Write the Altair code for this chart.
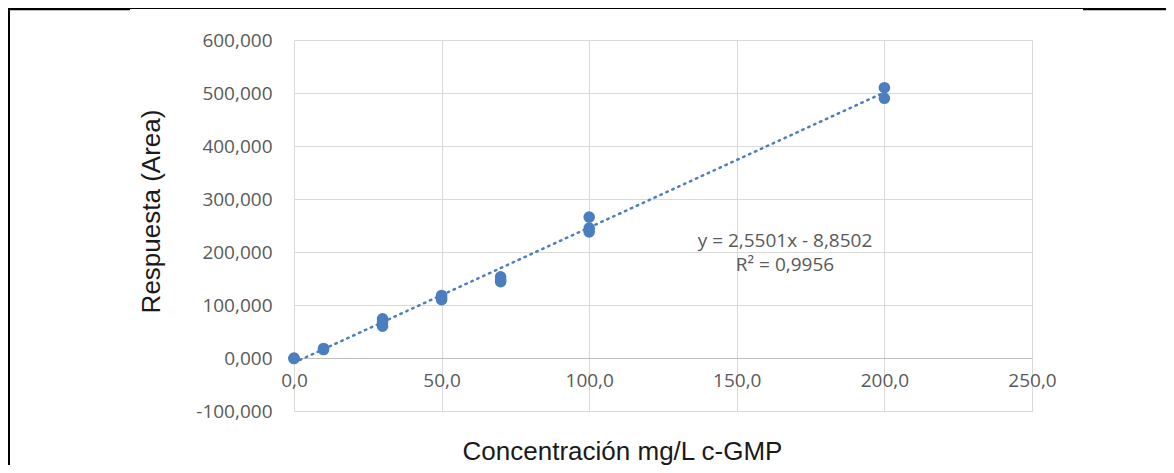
import altair as alt
import pandas as pd

# Data
conc_x = [0, 0, 10, 10, 30, 30, 30, 50, 50, 50, 70, 70, 70, 100, 100, 100, 200, 200]
resp_y = [0, -1, 16, 18, 74, 68, 60, 118, 114, 110, 153, 147, 144, 266, 245, 238, 510, 490]

# Trendline shown in the chart: y = 2,5501x - 8,8502 (over the data range)
slope = 2.5501
intercept = -8.8502
trend_x = [0, 200]
trend_y = [slope * v + intercept for v in trend_x]

eq_text = "y = 2,5501x - 8,8502"
r2_text = "R\u00b2 = 0,9956"

x_ticks = [0, 50, 100, 150, 200, 250]
y_ticks = [-100, 0, 100, 200, 300, 400, 500, 600]

pts = pd.DataFrame({"x": conc_x, "y": resp_y})
trend = pd.DataFrame({"x": trend_x, "y": trend_y})

BLUE = "#4A7EBF"
TICK_FONT = "Open Sans"
TITLE_FONT = "Liberation Sans"

xscale = alt.Scale(domain=[0, 250], nice=False, zero=False)
yscale = alt.Scale(domain=[-100, 600], nice=False, zero=False)

x_axis = alt.Axis(
    values=x_ticks,
    labelExpr="replace(format(datum.value, '.1f'), '.', ',')",
    offset=-53,
    domain=True, domainColor="#bfbfbf", domainWidth=1,
    ticks=False, grid=True, gridColor="#d9d9d9", gridWidth=1,
    labelFont=TICK_FONT, labelFontSize=19, labelColor="#595959", labelPadding=13,
    labelFlush=False, labelOverlap=False,
    title="Concentración mg/L c-GMP",
    titleFont=TITLE_FONT, titleFontSize=26, titleFontWeight="normal", titleColor="#1a1a1a",
    titleX=328, titleY=93, titleAlign="center", titleBaseline="middle", titleAnchor="start",
)
y_axis = alt.Axis(
    values=y_ticks,
    labelExpr="(datum.value < 0 ? '-' : '') + replace(format(abs(datum.value), '.3f'), '.', ',')",
    domain=False, ticks=False, grid=True, gridColor="#d9d9d9", gridWidth=1,
    labelFont=TICK_FONT, labelFontSize=19, labelColor="#595959", labelPadding=22,
    labelFlush=False, labelOverlap=False,
    title="Respuesta (Area)",
    titleFont=TITLE_FONT, titleFontSize=26, titleFontWeight="normal", titleColor="#1a1a1a",
    titleX=-143, titleY=171, titleAngle=270, titleAlign="center", titleBaseline="middle",
    titleAnchor="start",
)

points = alt.Chart(pts).mark_circle(size=135, color=BLUE, opacity=1).encode(
    x=alt.X("x:Q", scale=xscale, axis=x_axis),
    y=alt.Y("y:Q", scale=yscale, axis=y_axis),
)

line = alt.Chart(trend).mark_line(
    color=BLUE, strokeWidth=2.5, strokeDash=[1.5, 5], strokeCap="round"
).encode(x=alt.X("x:Q", scale=xscale), y=alt.Y("y:Q", scale=yscale))

one = pd.DataFrame({"a": [0]})
eq = alt.Chart(one).mark_text(
    text=eq_text, font=TICK_FONT, fontSize=19, color="#595959",
    align="center", baseline="middle"
).encode(x=alt.value(491), y=alt.value(201))
r2 = alt.Chart(one).mark_text(
    text=r2_text, font=TICK_FONT, fontSize=19, color="#595959",
    align="center", baseline="middle"
).encode(x=alt.value(491), y=alt.value(225))

# Document table-cell frame around the chart
frame_left = alt.Chart(one).mark_rule(color="black", strokeWidth=2).encode(
    x=alt.value(-285), y=alt.value(-31), y2=alt.value(430))
frame_top_l = alt.Chart(one).mark_rule(color="black", strokeWidth=2.5).encode(
    x=alt.value(-286), x2=alt.value(-164), y=alt.value(-31))
frame_top_m = alt.Chart(one).mark_rule(color="black", strokeWidth=1.2).encode(
    x=alt.value(-164), x2=alt.value(789), y=alt.value(-31.5))
frame_top_r = alt.Chart(one).mark_rule(color="black", strokeWidth=2.5).encode(
    x=alt.value(789), x2=alt.value(880), y=alt.value(-31))

chart = alt.layer(
    line, points, eq, r2, frame_left, frame_top_l, frame_top_m, frame_top_r
).properties(
    width=738, height=371,
    padding={"left": 286, "top": 32, "right": 134, "bottom": 54},
    autosize=alt.AutoSizeParams(type="none"),
).configure_view(stroke=None).configure(background="white")

chart.save("out.html", embed_options={"renderer": "svg", "actions": False})
